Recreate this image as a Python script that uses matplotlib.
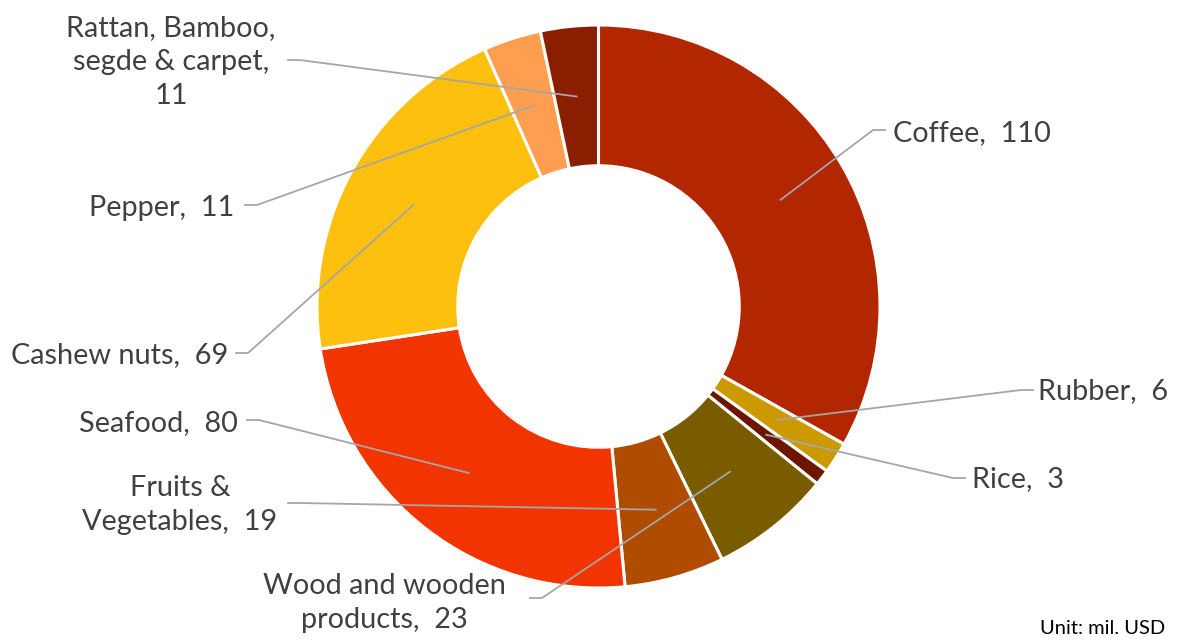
import numpy as np
import matplotlib
matplotlib.use("Agg")
import matplotlib.pyplot as plt

categories = ["Coffee", "Rubber", "Rice", "Wood and wooden\nproducts", "Fruits &\nVegetables",
              "Seafood", "Cashew nuts", "Pepper", "Rattan, Bamboo,\nsegde & carpet,\n"]
values = [110, 6, 3, 23, 19, 80, 69, 11, 11]
colors = ["#B22600", "#CC9900", "#6E1500", "#7A5C00", "#B04C00",
          "#F23500", "#FDC00E", "#FF9E50", "#8B1E00"]

W, H = 1178, 641
CX, CY, R = 598.5, 306.5, 281.5


def to_data(px, py):
    # pixel position in the figure -> pie data coords
    return (px - CX) / R, (CY - py) / R


# label layout: text pixel position, alignment, end of leader line (pixels), side
label_pos = [
    (893, 133, "left", (885, 130), +1),
    (1038, 391, "left", (1033, 390), +1),
    (972, 479, "left", (965, 478), +1),
    (384, 603, "center", (530, 598), -1),
    (180, 505, "center", (288, 503), -1),
    (238, 423, "right", (247, 420), -1),
    (228, 355, "right", (236, 353), -1),
    (234, 208, "right", (245, 205), -1),
    (171, 62, "center", (288, 60), -1),
]

plt.rcParams["font.family"] = ["Lato", "DejaVu Sans"]
fig = plt.figure(figsize=(W / 100, H / 100), dpi=100)
ax = fig.add_axes([(CX - R) / W, (H - CY - R) / H, 2 * R / W, 2 * R / H])

wedges, _ = ax.pie(values, colors=colors, startangle=90, counterclock=False, radius=1,
                   wedgeprops=dict(width=0.5, edgecolor="white", linewidth=2.2))
ax.set_xlim(-1, 1)
ax.set_ylim(-1, 1)
ax.axis("off")

for w, cat, val, (tx, ty, ha, (ex, ey), side) in zip(wedges, categories, values, label_pos):
    mid = np.deg2rad((w.theta1 + w.theta2) / 2)
    ax0, ay0 = 0.75 * np.cos(mid), 0.75 * np.sin(mid)
    # short horizontal piece next to the label
    elbow = to_data(ex - side * 12, ey)
    end = to_data(ex, ey)
    ax.plot([ax0, elbow[0], end[0]], [ay0, elbow[1], end[1]], color="#A6A6A6",
            lw=1.3, clip_on=False, zorder=5)
    sep = "" if cat.endswith("\n") else ",  "
    x, y = to_data(tx, ty)
    ax.text(x, y, f"{cat}{sep}{val}", ha=ha, va="center", fontsize=20.8, color="#404040",
            linespacing=1.38, multialignment="center", clip_on=False)

fig.text(1165 / W, 1 - 629 / H, "Unit: mil. USD", ha="right", va="center",
         fontsize=14.5, color="#000000")

fig.savefig("out.png", dpi=100)
